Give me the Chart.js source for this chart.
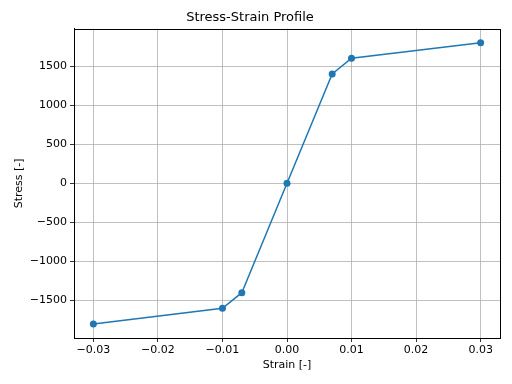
<!DOCTYPE html>
<html>
<head>
<meta charset="utf-8">
<script src="https://cdn.jsdelivr.net/npm/chart.js@4"></script>
<style>
  html, body { margin: 0; padding: 0; background: #fff; }
  #wrap { width: 512px; height: 384px; }
</style>
</head>
<body>
<div id="wrap"><canvas id="chart" width="512" height="384"></canvas></div>
<script>
const strain = [-0.03, -0.01, -0.007, 0, 0.007, 0.01, 0.03];
const stress = [-1800, -1600, -1400, 0, 1400, 1600, 1800];
const xTicks = [-0.03, -0.02, -0.01, 0, 0.01, 0.02, 0.03];
const yTicks = [-1500, -1000, -500, 0, 500, 1000, 1500];

const FONT = "'DejaVu Sans', sans-serif";

function fmt(v, d) {
    let s = Math.abs(v).toFixed(d);
    return (v < 0 && Number(s) !== 0 ? "\u2212" : "") + s;
}

const frame = {
    id: "frame",
    afterDraw(chart) {
        const a = chart.chartArea;
        const ctx = chart.ctx;
        ctx.save();
        ctx.strokeStyle = "#000";
        ctx.lineWidth = 1;
        ctx.strokeRect(Math.round(a.left) + 0.5, Math.round(a.top) + 0.5,
            Math.round(a.right - a.left), Math.round(a.bottom - a.top));
        ctx.restore();
    }
};

new Chart(document.getElementById("chart"), {
    type: "line",
    data: {
        datasets: [{
            data: strain.map((x, i) => ({ x: x, y: stress[i] })),
            borderColor: "#1f77b4",
            backgroundColor: "#1f77b4",
            borderWidth: 1.5,
            pointRadius: 3.5,
            pointBorderWidth: 0,
            tension: 0
        }]
    },
    options: {
        responsive: false,
        animation: false,
        layout: { padding: { left: 0, right: 12, top: 0, bottom: 0 } },
        plugins: {
            legend: { display: false },
            tooltip: { enabled: false },
            title: {
                display: true,
                text: "Stress-Strain Profile",
                color: "#000",
                font: { family: FONT, size: 13, weight: "normal" },
                padding: { top: 10, bottom: 3 }
            }
        },
        scales: {
            x: {
                type: "linear",
                min: -0.033,
                max: 0.033,
                afterBuildTicks(s) { s.ticks = xTicks.map(v => ({ value: v })); },
                afterFit(s) { s.height = 46; },
                ticks: {
                    color: "#000",
                    font: { family: FONT, size: 11 },
                    padding: 2,
                    maxRotation: 0,
                    callback: v => fmt(v, 2)
                },
                grid: { color: "#b0b0b0", lineWidth: 0.8, tickColor: "#000", tickLength: 4 },
                border: { color: "#000", width: 1 },
                title: {
                    display: true,
                    text: "Strain [-]",
                    color: "#000",
                    font: { family: FONT, size: 11 },
                    padding: { top: 2, bottom: 12 }
                }
            },
            y: {
                type: "linear",
                min: -1980,
                max: 1980,
                afterBuildTicks(s) { s.ticks = yTicks.map(v => ({ value: v })); },
                afterFit(s) { s.width = 74; },
                ticks: {
                    color: "#000",
                    font: { family: FONT, size: 11 },
                    padding: 3,
                    callback: v => fmt(v, 0)
                },
                grid: { color: "#b0b0b0", lineWidth: 0.8, tickColor: "#000", tickLength: 4 },
                border: { color: "#000", width: 1 },
                title: {
                    display: true,
                    text: "Stress [-]",
                    color: "#000",
                    font: { family: FONT, size: 11 },
                    padding: { top: 13, bottom: 4 }
                }
            }
        }
    },
    plugins: [frame]
});
</script>
</body>
</html>
